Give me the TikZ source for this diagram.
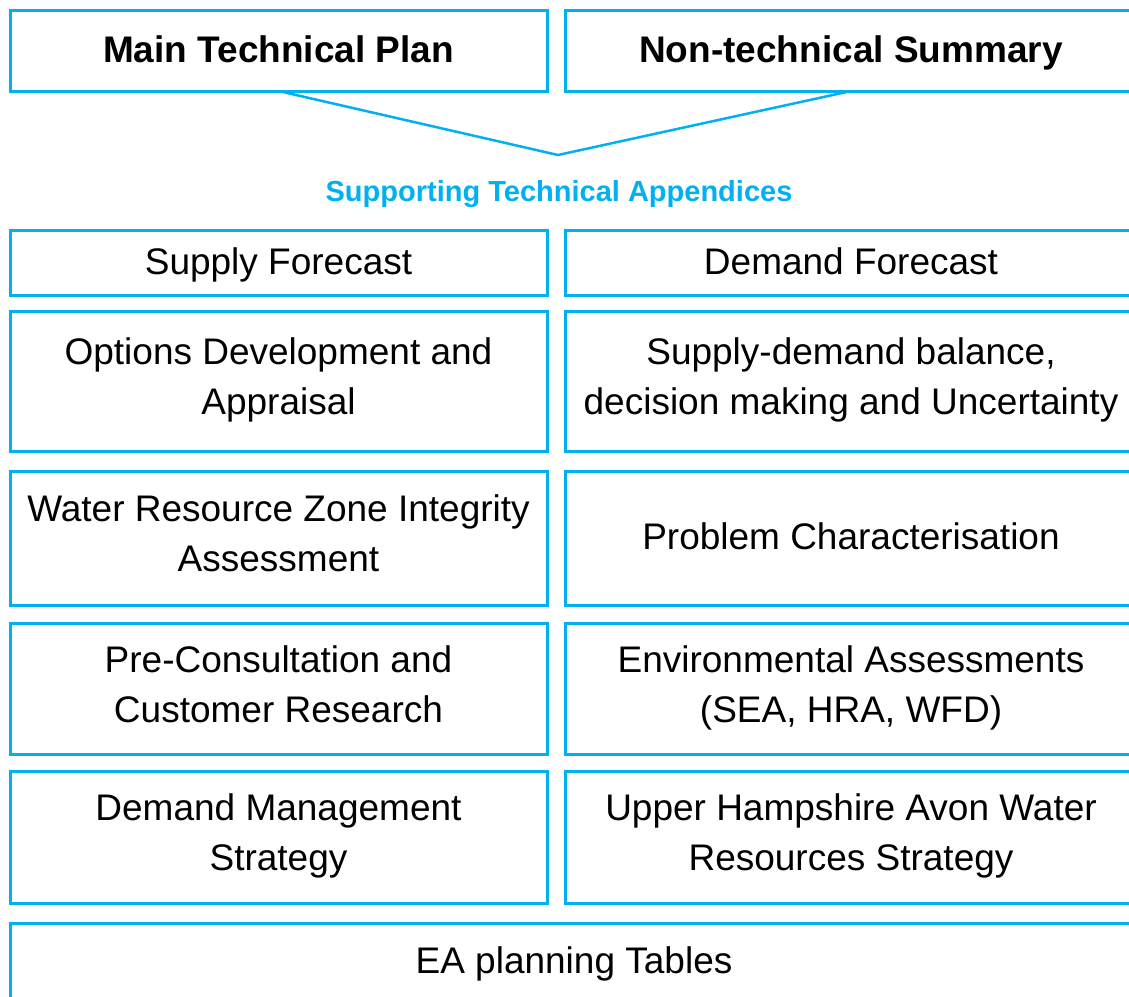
\documentclass[tikz,border=0pt]{standalone}
\usepackage{fontspec}
\setmainfont{Liberation Sans}
\definecolor{cyanc}{HTML}{00B0F0}
\newcommand{\boxstrut}{\rule[-9pt]{0pt}{41pt}}
\begin{document}
\begin{tikzpicture}[x=1pt,y=-1pt,
  box/.style={draw=cyanc, line width=3pt, inner sep=0pt, outer sep=0pt, align=center,
    font=\fontsize{37}{50}\selectfont,
    execute at begin node=\boxstrut, execute at end node=\boxstrut},
  title/.style={box, font=\fontsize{37}{50}\selectfont\bfseries},
  lw/.style={minimum width=537pt},
  rw/.style={minimum width=572pt},
  conn/.style={draw=cyanc, line width=2.5pt, line join=miter}]
\useasboundingbox (0,0) rectangle (1129,996);
\clip (0,0) rectangle (1129,996);
% top row
\node[title, lw, minimum height=81pt] (mtp) at (278.5,50.5) {Main Technical Plan};
\node[title, rw, minimum height=81pt] (nts) at (851,50.5) {Non-technical Summary};
\coordinate (tip) at (558,155);
\draw[conn] (mtp.south) -- (tip) -- (nts.south);
\node[text=cyanc, font=\fontsize{29}{35}\selectfont\bfseries] (sta) at (559,191) {\rule[-5pt]{0pt}{32pt}Supporting Technical Appendices};
% row 1
\node[box, lw, minimum height=65pt] (sf) at (278.5,262.5) {Supply Forecast};
\node[box, rw, minimum height=65pt] (df) at (851,262.5) {Demand Forecast};
% row 2
\node[box, lw, minimum height=140pt] (oda) at (278.5,381) {Options Development and\\Appraisal};
\node[box, rw, minimum height=140pt] (sdb) at (851,381) {Supply-demand balance,\\decision making and Uncertainty};
% row 3
\node[box, lw, minimum height=134pt] (wrz) at (278.5,538) {Water Resource Zone Integrity\\Assessment};
\node[box, rw, minimum height=134pt] (pc) at (851,538) {Problem Characterisation};
% row 4
\node[box, lw, minimum height=131pt] (pcr) at (278.5,688.5) {Pre-Consultation and\\Customer Research};
\node[box, rw, minimum height=131pt] (ea) at (851,688.5) {Environmental Assessments\\(SEA, HRA, WFD)};
% row 5
\node[box, lw, minimum height=132pt] (dms) at (278.5,837) {Demand Management\\Strategy};
\node[box, rw, minimum height=132pt] (uha) at (851,837) {Upper Hampshire Avon Water\\Resources Strategy};
% bottom
\node[box, minimum width=1128pt, minimum height=77pt] (ept) at (574,961.5) {EA planning Tables};
\end{tikzpicture}
\end{document}
